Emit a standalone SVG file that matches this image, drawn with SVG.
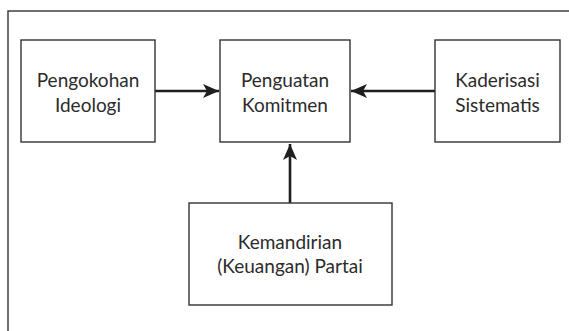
<svg xmlns="http://www.w3.org/2000/svg" width="569" height="331" viewBox="0 0 569 331">
<defs>
<style>
.box{fill:#fff;stroke:#333;stroke-width:1.4}
.t{font-family:Lato,"Open Sans",sans-serif;font-size:19px;fill:#2b2b2b;text-anchor:middle}
.c{stroke:#1e1e1e;stroke-width:2.6;fill:none}
</style>
<marker id="ah" markerUnits="userSpaceOnUse" markerWidth="18" markerHeight="14" refX="16" refY="7" orient="auto">
<path d="M0,0 L16,7 L0,14 L4,7 Z" fill="#1e1e1e"/>
</marker>
</defs>
<rect width="569" height="331" fill="#fff"/>
<rect x="8" y="11" width="600" height="400" fill="none" stroke="#333" stroke-width="1.4"/>
<g id="connectors">
<line class="c" x1="155" y1="91" x2="219" y2="91" marker-end="url(#ah)"/>
<line class="c" x1="435" y1="91" x2="351" y2="91" marker-end="url(#ah)"/>
<line class="c" x1="290" y1="203" x2="290" y2="144" marker-end="url(#ah)"/>
</g>
<g id="n1"><rect class="box" x="21" y="40" width="134" height="102"/>
<text class="t" x="88" y="87">Pengokohan</text><text class="t" x="88" y="112">Ideologi</text></g>
<g id="n2"><rect class="box" x="220" y="40" width="130" height="102"/>
<text class="t" x="285" y="87">Penguatan</text><text class="t" x="285" y="112">Komitmen</text></g>
<g id="n3"><rect class="box" x="435" y="40" width="125" height="102"/>
<text class="t" x="497.5" y="87">Kaderisasi</text><text class="t" x="497.5" y="112">Sistematis</text></g>
<g id="n4"><rect class="box" x="189" y="203" width="203" height="102"/>
<text class="t" x="290" y="249">Kemandirian</text><text class="t" x="290" y="273">(Keuangan) Partai</text></g>
</svg>
